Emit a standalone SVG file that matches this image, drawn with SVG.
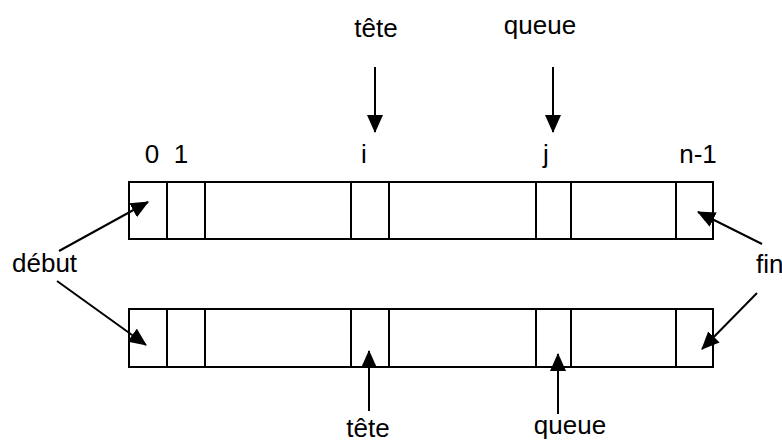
<svg xmlns="http://www.w3.org/2000/svg" width="782" height="444" viewBox="0 0 782 444">
<style>
text{font-family:"Liberation Sans",Arial,sans-serif;font-size:26px;fill:#000}
.box{fill:#fff;stroke:#000;stroke-width:2}
.cell{stroke:#000;stroke-width:2}
.arr{stroke:#000;stroke-width:2;fill:none;marker-end:url(#ah)}
</style>
<defs>
<marker id="ah" markerUnits="userSpaceOnUse" markerWidth="18" markerHeight="16" refX="17" refY="8" orient="auto" viewBox="0 0 18 16">
<path d="M0,0 L18,8 L0,16 z" fill="#000"/>
</marker>
</defs>
<rect width="782" height="444" fill="#fff"/>
<g id="array-top">
<rect class="box" x="129" y="182" width="584" height="57"/>
<line class="cell" x1="167" y1="182" x2="167" y2="239"/>
<line class="cell" x1="205" y1="182" x2="205" y2="239"/>
<line class="cell" x1="351" y1="182" x2="351" y2="239"/>
<line class="cell" x1="389" y1="182" x2="389" y2="239"/>
<line class="cell" x1="536" y1="182" x2="536" y2="239"/>
<line class="cell" x1="571" y1="182" x2="571" y2="239"/>
<line class="cell" x1="676" y1="182" x2="676" y2="239"/>
</g>
<g id="array-bottom">
<rect class="box" x="129" y="309" width="584" height="58"/>
<line class="cell" x1="167" y1="309" x2="167" y2="367"/>
<line class="cell" x1="205" y1="309" x2="205" y2="367"/>
<line class="cell" x1="351" y1="309" x2="351" y2="367"/>
<line class="cell" x1="389" y1="309" x2="389" y2="367"/>
<line class="cell" x1="536" y1="309" x2="536" y2="367"/>
<line class="cell" x1="571" y1="309" x2="571" y2="367"/>
<line class="cell" x1="676" y1="309" x2="676" y2="367"/>
</g>
<g id="labels">
<text x="376" y="37" text-anchor="middle">tête</text>
<text x="540" y="34" text-anchor="middle">queue</text>
<text x="152" y="163" text-anchor="middle">0</text>
<text x="181" y="163" text-anchor="middle">1</text>
<text x="364" y="163" text-anchor="middle">i</text>
<text x="546" y="163" text-anchor="middle">j</text>
<text x="698" y="163" text-anchor="middle">n-1</text>
<text x="12" y="272">début</text>
<text x="756" y="273">fin</text>
<text x="368" y="437" text-anchor="middle">tête</text>
<text x="570" y="434" text-anchor="middle">queue</text>
</g>
<g id="connectors">
<line class="arr" x1="375" y1="67" x2="375" y2="132"/>
<line class="arr" x1="553" y1="67" x2="553" y2="132"/>
<line class="arr" x1="59" y1="251" x2="148" y2="202"/>
<line class="arr" x1="57" y1="281" x2="146" y2="345"/>
<line class="arr" x1="762" y1="244" x2="698" y2="212"/>
<line class="arr" x1="757" y1="293" x2="702" y2="349"/>
<line class="arr" x1="369" y1="411" x2="369" y2="351"/>
<line class="arr" x1="558" y1="414" x2="558" y2="354"/>
</g>
</svg>
